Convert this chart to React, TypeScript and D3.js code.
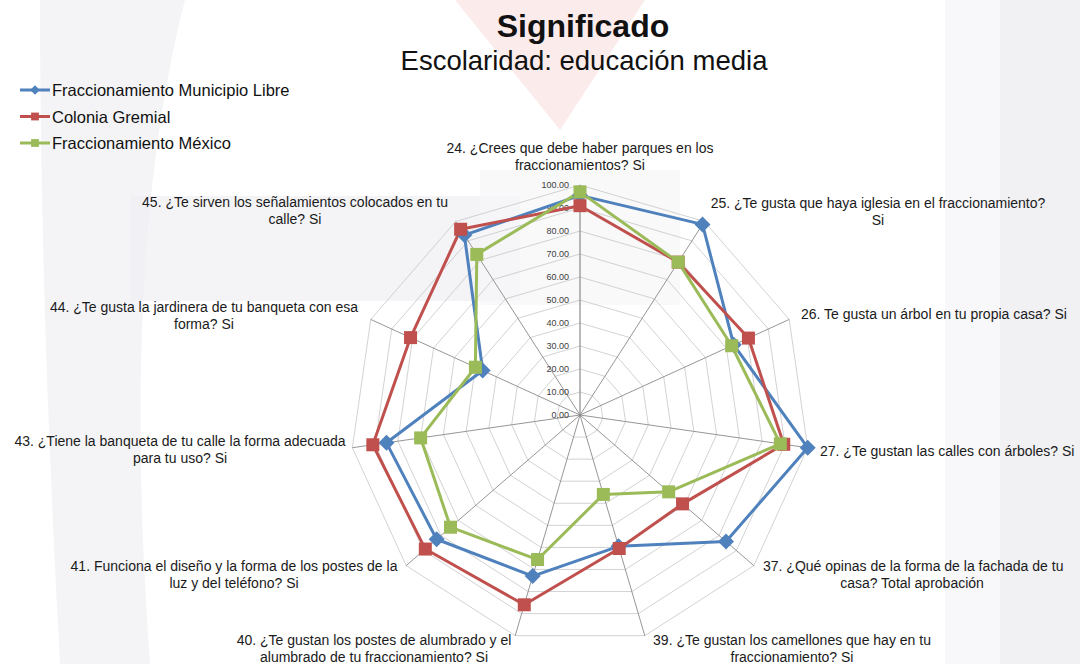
import React from "react";
import * as d3 from "d3";

const axisLabels: string[][] = [
  ["24. ¿Crees que debe haber parques en los", "fraccionamientos? Si"],
  ["25. ¿Te gusta que haya iglesia en el fraccionamiento?", "Si"],
  ["26. Te gusta un árbol en tu propia casa? Si"],
  ["27. ¿Te gustan las calles con árboles? Si"],
  ["37. ¿Qué opinas de la forma de la fachada de tu", "casa? Total aprobación"],
  ["39. ¿Te gustan los camellones que hay en tu", "fraccionamiento? Si"],
  ["40. ¿Te gustan los postes de alumbrado y el", "alumbrado de tu fraccionamiento? Si"],
  ["41. Funciona el diseño y la forma de los postes de la", "luz y del teléfono? Si"],
  ["43. ¿Tiene la banqueta de tu calle la forma adecuada", "para tu uso? Si"],
  ["44. ¿Te gusta la jardinera de tu banqueta con esa", "forma? Si"],
  ["45. ¿Te sirven los señalamientos colocados en tu", "calle? Si"],
];

const seriesNames = ["Fraccionamiento Municipio Libre", "Colonia Gremial", "Fraccionamiento México"];
const municipioLibre = [95.5, 98.5, 73.5, 100, 84, 59.5, 73, 82.5, 85, 46.5, 93];
const coloniaGremial = [91, 79, 80.5, 89.5, 59, 60.5, 86, 89, 91, 81, 96];
const fracMexico = [97, 79, 72.5, 88, 51, 36, 65.5, 74.5, 70, 50, 83];
const tickValues = [0, 10, 20, 30, 40, 50, 60, 70, 80, 90, 100];

const seriesColors = ["#4F81BD", "#C0504D", "#9BBB59"];
const seriesMarkers = ["diamond", "square", "square"];

// label anchor positions (layout only)
const labelLayout: { x: number; y: number; anchor: string; x2?: number }[] = [
  { x: 580, y: 153, anchor: "middle" },
  { x: 878, y: 208, anchor: "middle" },
  { x: 801, y: 319, anchor: "start" },
  { x: 820, y: 456, anchor: "start" },
  { x: 763, y: 571, anchor: "start", x2: 912 },
  { x: 792, y: 645, anchor: "middle" },
  { x: 374, y: 645, anchor: "middle" },
  { x: 234, y: 571, anchor: "middle" },
  { x: 180, y: 446, anchor: "middle" },
  { x: 204, y: 312, anchor: "middle" },
  { x: 295, y: 207, anchor: "middle" },
];

export default function App() {
  const W = 1080, H = 664;
  const cx = 580, cy = 415, R = 230;
  const n = axisLabels.length;
  const rScale = d3.scaleLinear().domain([0, 100]).range([0, R]);
  const angle = (i: number) => (i * 2 * Math.PI) / n;
  const pt = (i: number, v: number): [number, number] => {
    const r = rScale(v);
    return [cx + r * Math.sin(angle(i)), cy - r * Math.cos(angle(i))];
  };
  const lineGen = d3.line<[number, number]>().curve(d3.curveLinearClosed);
  const data = [municipioLibre, coloniaGremial, fracMexico];
  const font = "Arial, 'Liberation Sans', Helvetica, sans-serif";

  const marker = (type: string, x: number, y: number, color: string, key: string, s = 1) => {
    if (type === "diamond") {
      const d = 8 * s;
      return (
        <path key={key} d={`M${x},${y - d}L${x + d},${y}L${x},${y + d}L${x - d},${y}Z`} fill={color} />
      );
    }
    const h = 6.5 * s;
    return <rect key={key} x={x - h} y={y - h} width={2 * h} height={2 * h} fill={color} />;
  };

  return (
    <svg width={W} height={H} style={{ position: "absolute", left: 0, top: 0, display: "block" }} fontFamily={font}>
      <rect x={0} y={0} width={W} height={H} fill="#ffffff" />
      {/* faint watermark */}
      <g>
        <path d="M40,0 L185,0 Q120,250 150,664 L60,664 Q40,300 40,0 Z" fill="#f4f4f7" />
        <path d="M455,0 L645,0 L560,130 Z" fill="#fbe6e6" opacity={0.8} />
        <rect x={945} y={0} width={55} height={H} fill="#f8f8fa" />
        <rect x={1000} y={0} width={80} height={H} fill="#f1f1f4" />
        <rect x={130} y={196} width={390} height={105} fill="#f0f0f3" opacity={0.7} />
        <rect x={480} y={170} width={200} height={135} fill="#f6f6f8" opacity={0.7} />
      </g>

      {/* rings */}
      {tickValues.slice(1).map((t) => (
        <path
          key={"ring" + t}
          d={lineGen(d3.range(n).map((i) => pt(i, t))) || ""}
          fill="none"
          stroke="#c6c6c6"
          strokeWidth={0.8}
        />
      ))}
      {/* spokes */}
      {d3.range(n).map((i) => {
        const [x, y] = pt(i, 100);
        return <line key={"sp" + i} x1={cx} y1={cy} x2={x} y2={y} stroke="#8a8a8a" strokeWidth={i === 0 ? 1.2 : 0.9} />;
      })}
      {/* tick labels */}
      {tickValues.map((t) => (
        <text key={"tk" + t} x={569} y={cy - rScale(t) + 3} fontSize={9} textAnchor="end" fill="#404040">
          {t.toFixed(2)}
        </text>
      ))}

      {/* series */}
      {data.map((vals, s) => (
        <path
          key={"ser" + s}
          d={lineGen(vals.map((v, i) => pt(i, v))) || ""}
          fill="none"
          stroke={seriesColors[s]}
          strokeWidth={3}
          strokeLinejoin="round"
        />
      ))}
      {data.map((vals, s) =>
        vals.map((v, i) => {
          const [x, y] = pt(i, v);
          return marker(seriesMarkers[s], x, y, seriesColors[s], `m${s}-${i}`);
        })
      )}

      {/* axis labels */}
      {axisLabels.map((lines, i) => {
        const L = labelLayout[i];
        return (
          <g key={"lab" + i} fontSize={14} fill="#1a1a1a">
            {lines.map((ln, j) => {
              let x = L.x;
              let anchor = L.anchor;
              if (j > 0 && L.x2 !== undefined) {
                x = L.x2;
                anchor = "middle";
              }
              return (
                <text key={j} x={x} y={L.y + j * 16.5} textAnchor={anchor}>
                  {ln}
                </text>
              );
            })}
          </g>
        );
      })}

      {/* title */}
      <text x={583} y={37} textAnchor="middle" fontSize={32} fontWeight="bold" fill="#111">
        Significado
      </text>
      <text x={584} y={70} textAnchor="middle" fontSize={27.5} fill="#111">
        Escolaridad: educación media
      </text>

      {/* legend */}
      {seriesNames.map((name, s) => {
        const y = 90 + s * 26.5;
        return (
          <g key={"lg" + s}>
            <line x1={20} x2={50} y1={y} y2={y} stroke={seriesColors[s]} strokeWidth={3} />
            {marker(seriesMarkers[s], 35, y, seriesColors[s], "lm" + s, 0.6)}
            <text x={52} y={y + 6} fontSize={16.5} fill="#111">
              {name}
            </text>
          </g>
        );
      })}
    </svg>
  );
}
